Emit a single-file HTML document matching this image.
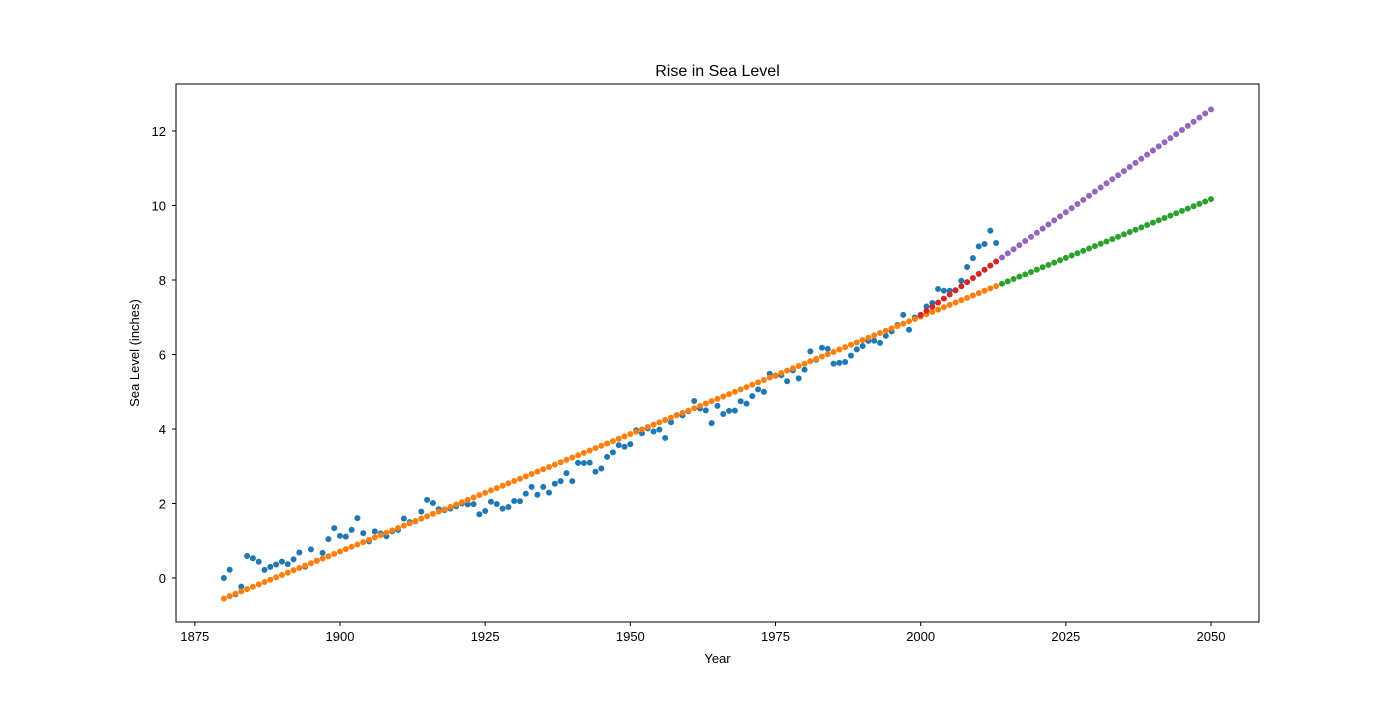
<!DOCTYPE html>
<html><head><meta charset="utf-8"><style>
body{margin:0;background:#fff;}
svg text{font-family:"Liberation Sans","DejaVu Sans",sans-serif;fill:#000;}
</style></head><body>
<svg id="chart" width="1400" height="700" xmlns="http://www.w3.org/2000/svg">
<rect width="1400" height="700" fill="#fff"/>
<text x="717.5" y="76" font-size="16" text-anchor="middle">Rise in Sea Level</text>
<g id="marks"></g>
<rect x="176" y="84" width="1083" height="538" fill="none" stroke="#000" stroke-width="1"/>
<g id="axes"></g>
<text x="717.5" y="663" font-size="13" text-anchor="middle">Year</text>
<text transform="translate(139,353) rotate(-90)" font-size="13" text-anchor="middle">Sea Level (inches)</text>
</svg>
<script>
const years = [];
for (let y = 1880; y <= 2013; y++) years.push(y);
const seaLevel = [0,0.220,-0.441,-0.232,0.590,0.531,0.437,0.217,0.299,0.362,0.441,0.374,0.500,0.685,0.303,0.768,0.468,0.673,1.043,1.339,1.130,1.110,1.291,1.606,1.205,0.984,1.252,1.196,1.122,1.251,1.291,1.594,1.500,1.520,1.783,2.098,2.012,1.847,1.823,1.866,1.925,2.000,1.977,1.984,1.712,1.799,2.047,1.988,1.862,1.906,2.067,2.059,2.265,2.446,2.236,2.446,2.291,2.531,2.602,2.814,2.602,3.091,3.087,3.098,2.854,2.941,3.252,3.374,3.567,3.524,3.594,3.965,3.886,4.016,3.933,3.984,3.760,4.181,4.374,4.366,4.476,4.752,4.551,4.500,4.157,4.622,4.402,4.488,4.492,4.744,4.681,4.882,5.063,4.996,5.484,5.429,5.445,5.283,5.575,5.358,5.594,6.083,5.858,6.181,6.150,5.756,5.776,5.799,5.969,6.138,6.228,6.366,6.370,6.311,6.500,6.622,6.791,7.063,6.665,6.992,7.063,7.287,7.382,7.760,7.713,7.713,7.726,7.980,8.350,8.587,8.902,8.965,9.327,8.992];
// fitted lines: [value at 1880/2000, value at 2050]
const fitAllEnds = [-0.55, 10.17];
const fitRecentEnds = [7.06, 12.58];
const xTicks = [1875,1900,1925,1950,1975,2000,2025,2050];
const yTicks = [0,2,4,6,8,10,12];

const xs = v => 340 + (v - 1900) * (871 / 150);
const ys = v => 578 - v * (447 / 12);
const NS = "http://www.w3.org/2000/svg";
const marks = document.getElementById('marks');
const axes = document.getElementById('axes');

function dot(x, y, color, name) {
  const c = document.createElementNS(NS,'circle');
  c.setAttribute('cx', xs(x)); c.setAttribute('cy', ys(y)); c.setAttribute('r', 3);
  c.setAttribute('fill', color);
  
  
  marks.appendChild(c);
}
years.forEach((y,i)=>dot(y, seaLevel[i], '#1f77b4', 'data-point'));
const m1 = (fitAllEnds[1]-fitAllEnds[0])/(2050-1880);
const f1 = y => fitAllEnds[0] + m1*(y-1880);
for (let y=1880;y<=2013;y++) dot(y, f1(y), '#ff7f0e', 'fit-all-point');
for (let y=2014;y<=2050;y++) dot(y, f1(y), '#2ca02c', 'forecast-all-point');
const m2 = (fitRecentEnds[1]-fitRecentEnds[0])/(2050-2000);
const f2 = y => fitRecentEnds[0] + m2*(y-2000);
for (let y=2000;y<=2013;y++) dot(y, f2(y), '#d62728', 'fit-2000-point');
for (let y=2014;y<=2050;y++) dot(y, f2(y), '#9467bd', 'forecast-2000-point');

xTicks.forEach(t=>{
  const l = document.createElementNS(NS,'line');
  l.setAttribute('x1', xs(t)); l.setAttribute('x2', xs(t)); l.setAttribute('y1', 622); l.setAttribute('y2', 626);
  l.setAttribute('stroke', '#000');
  
  
  axes.appendChild(l);
  const tx = document.createElementNS(NS,'text');
  tx.setAttribute('x', xs(t)); tx.setAttribute('y', 641); tx.setAttribute('font-size', 13); tx.setAttribute('text-anchor', 'middle');
  tx.textContent = t;
  
  
  axes.appendChild(tx);
});
yTicks.forEach(t=>{
  const l = document.createElementNS(NS,'line');
  l.setAttribute('x1', 172); l.setAttribute('x2', 176); l.setAttribute('y1', ys(t)); l.setAttribute('y2', ys(t));
  l.setAttribute('stroke', '#000');
  
  
  axes.appendChild(l);
  const tx = document.createElementNS(NS,'text');
  tx.setAttribute('x', 166); tx.setAttribute('y', ys(t)+5); tx.setAttribute('font-size', 13); tx.setAttribute('text-anchor', 'end');
  tx.textContent = t;
  
  
  axes.appendChild(tx);
});
</script>
</body></html>
